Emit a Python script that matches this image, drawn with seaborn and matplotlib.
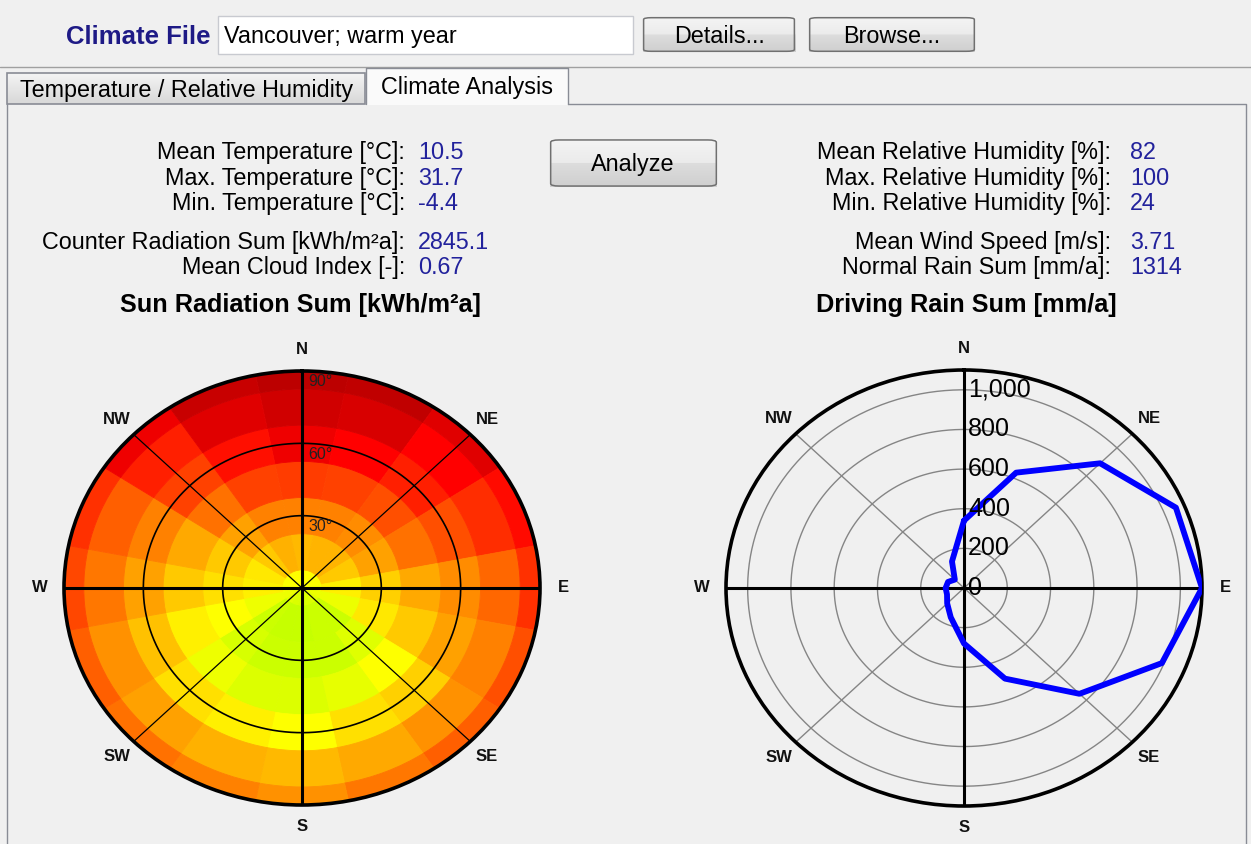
import numpy as np
import matplotlib
matplotlib.use("Agg")
import matplotlib.pyplot as plt
import matplotlib.transforms as mtransforms
from matplotlib.colors import LinearSegmentedColormap, Normalize
from matplotlib.patches import FancyBboxPatch, Rectangle
from matplotlib.lines import Line2D
import seaborn as sns

# ---------------- data ----------------
climate_file = "Vancouver; warm year"
left_labels = ["Mean Temperature [°C]:", "Max. Temperature [°C]:", "Min. Temperature [°C]:",
               "Counter Radiation Sum [kWh/m²a]:", "Mean Cloud Index [-]:"]
left_values = ["10.5", "31.7", "-4.4", "2845.1", "0.67"]
right_labels = ["Mean Relative Humidity [%]:", "Max. Relative Humidity [%]:",
                "Min. Relative Humidity [%]:", "Mean Wind Speed [m/s]:", "Normal Rain Sum [mm/a]:"]
right_values = ["82", "100", "24", "3.71", "1314"]

directions = ["N", "NNE", "NE", "ENE", "E", "ESE", "SE", "SSE",
              "S", "SSW", "SW", "WSW", "W", "WNW", "NW", "NNW"]
azimuths = [0, 22.5, 45, 67.5, 90, 112.5, 135, 157.5,
            180, 202.5, 225, 247.5, 270, 292.5, 315, 337.5]
tilts = [0, 15, 30, 45, 60, 75, 90]

# sun radiation sum [kWh/m²a] per tilt (rows) and azimuth (columns N..NNW)
sun_t0 = [950, 950, 950, 955, 965, 985, 1010, 1030, 1035, 1030, 1010, 985, 965, 955, 950, 950]
sun_t15 = [811, 800, 803, 842, 921, 990, 1063, 1063, 1072, 1072, 1063, 987, 921, 905, 842, 795]
sun_t30 = [700, 700, 724, 763, 858, 905, 1019, 1063, 1063, 1063, 1037, 950, 889, 842, 763, 700]
sun_t45 = [567, 575, 606, 669, 779, 842, 950, 1001, 1026, 1026, 987, 921, 842, 779, 669, 575]
sun_t60 = [426, 450, 512, 606, 724, 763, 858, 889, 950, 921, 889, 826, 763, 700, 575, 481]
sun_t75 = [376, 388, 450, 540, 653, 700, 732, 779, 811, 795, 763, 732, 684, 637, 512, 401]
sun_t90 = [344, 350, 401, 470, 544, 606, 637, 684, 732, 700, 669, 637, 590, 544, 426, 363]
sun_rows = [sun_t0, sun_t15, sun_t30, sun_t45, sun_t60, sun_t75, sun_t90]

# driving rain sum [mm/a] per direction (N..NNW)
rain = [340, 630, 890, 1060, 1100, 990, 755, 495, 280, 160, 110, 85, 85, 80, 60, 145]

compass = ["N", "NE", "E", "SE", "S", "SW", "W", "NW"]
compass_az = [0, 45, 90, 135, 180, 225, 270, 315]
tilt_ticks = [30, 60, 90]
rain_ticks = [0, 200, 400, 600, 800, 1000]
rain_tick_labels = ["0", "200", "400", "600", "800", "1,000"]

# ---------------- figure ----------------
sns.set_theme(style="white")
plt.rcParams['font.family'] = ['Liberation Sans', 'DejaVu Sans']

W, H = 1251, 844
BG = '#F0F0F0'
fig = plt.figure(figsize=(W / 100, H / 100), dpi=100, facecolor=BG)
PT2PX = 100 / 72
FS = 16.8


def rect_px(x0, y0, x1, y1):
    return [x0 / W, 1 - y1 / H, (x1 - x0) / W, (y1 - y0) / H]


def txt(x, y, s, size=FS, ha='left', color='black', weight='normal'):
    base = y + 0.716 * size * PT2PX / 2
    return fig.text(x / W, 1 - base / H, s, ha=ha, va='baseline', fontsize=size,
                    color=color, fontweight=weight)


def line_px(xs, ys, color='#898C95', lw=1.0):
    fig.add_artist(Line2D([x / W for x in xs], [1 - y / H for y in ys],
                          transform=fig.transFigure, color=color, lw=lw))


btn_cmap = LinearSegmentedColormap.from_list(
    'btn', [(0, '#F4F4F4'), (0.5, '#EBEBEB'), (0.5, '#DDDDDD'), (1, '#CFCFCF')])
tab_cmap = LinearSegmentedColormap.from_list('tab', ['#F5F5F5', '#D8D8D8'])


def gradient_box(x0, y0, x1, y1, cmap, edge='#707070', rounded=True):
    ax = fig.add_axes(rect_px(x0, y0, x1, y1))
    ax.imshow(np.linspace(0, 1, 64).reshape(-1, 1), aspect='auto', cmap=cmap,
              extent=[0, 1, 0, 1], origin='upper')
    ax.set_xlim(0, 1)
    ax.set_ylim(0, 1)
    ax.axis('off')
    if rounded:
        ax.add_patch(FancyBboxPatch((0.004, 0.02), 0.992, 0.96,
                                    boxstyle='round,pad=0,rounding_size=0.05',
                                    transform=ax.transAxes, fc='none', ec=edge, lw=1.1,
                                    clip_on=False))
    return ax


# header
txt(210, 35, "Climate File", size=18.5, ha='right', color='#1E1A86', weight='bold')
fig.add_artist(Rectangle((218 / W, 1 - 54 / H), (633 - 218) / W, (54 - 16) / H,
                         transform=fig.transFigure, fc='white', ec='#C8CAD0', lw=1))
txt(224, 35, climate_file, size=FS)
gradient_box(643, 17, 795, 52, btn_cmap)
txt(719, 35, "Details...", size=FS, ha='center')
gradient_box(809, 17, 975, 52, btn_cmap)
txt(892, 35, "Browse...", size=FS, ha='center')
line_px([0, W], [67, 67], color='#A0A0A0')

# tabs and panel
tab1 = gradient_box(7, 73, 365, 104, tab_cmap, rounded=False)
tab1.add_patch(Rectangle((0, 0), 1, 1, transform=tab1.transAxes, fc='none',
                         ec='#898C95', lw=1.2, clip_on=False))
txt(187, 89, "Temperature / Relative Humidity", size=FS, ha='center')
fig.add_artist(Rectangle((366 / W, 1 - 105 / H), (568 - 366) / W, (105 - 68) / H,
                         transform=fig.transFigure, fc='#FAFAFA', ec='none'))
line_px([366, 366, 568, 568], [104, 68, 68, 104])
txt(467, 86, "Climate Analysis", size=FS, ha='center')
line_px([7, 7], [104, H])
line_px([568, 1246, 1246], [104, 104, H])

# statistics
rows_y = [151, 177, 202, 241, 266]
VAL = '#22229C'
for y, lab, val in zip(rows_y, left_labels, left_values):
    txt(405, y, lab, ha='right')
    txt(418, y, val, color=VAL)
for y, lab, val in zip(rows_y, right_labels, right_values):
    txt(1111, y, lab, ha='right')
    txt(1130, y, val, color=VAL)
gradient_box(550, 139, 717, 187, btn_cmap)
txt(633, 163, "Analyze", size=FS, ha='center')

txt(300, 303, "Sun Radiation Sum [kWh/m²a]", size=18.2, ha='center', weight='bold')
txt(966, 303, "Driving Rain Sum [mm/a]", size=18.2, ha='center', weight='bold')

# ---------------- left polar: sun radiation ----------------
sun_cmap = LinearSegmentedColormap.from_list(
    'sun', [(0.0, '#A00000'), (0.1875, '#FF0000'), (0.5, '#FF8000'),
            (0.8125, '#FFFF00'), (1.0, '#BBFF00')])
norm = Normalize(vmin=300, vmax=1100)

axl = fig.add_axes(rect_px(64, 371, 540, 805), projection='polar')
axl.set_aspect('auto')
axl.set_theta_zero_location('N')
axl.set_theta_direction(-1)
axl.set_facecolor('none')
theta_c = np.deg2rad(azimuths)
sector = 2 * np.pi / len(azimuths)
half = (tilts[1] - tilts[0]) / 2
for t, row in zip(tilts, sun_rows):
    lo, hi = max(t - half, 0), min(t + half, tilts[-1])
    cols = sun_cmap(norm(np.array(row)))
    axl.bar(theta_c, hi - lo, width=sector, bottom=lo, color=cols, edgecolor=cols,
            linewidth=0.6, align='center', zorder=1)
axl.set_ylim(0, tilts[-1])
tf = np.linspace(0, 2 * np.pi, 500)
for r in tilt_ticks[:-1]:
    axl.plot(tf, np.full_like(tf, r), color='black', lw=1.2, zorder=3)
for a in compass_az:
    lw = 2.2 if a % 90 == 0 else 0.9
    axl.plot([np.deg2rad(a)] * 2, [0, tilts[-1]], color='black', lw=lw, zorder=4)
axl.set_xticks([])
axl.set_yticks([])
axl.grid(False)
axl.spines['polar'].set_linewidth(2.6)
axl.spines['polar'].set_color('black')
off = mtransforms.offset_copy(axl.transData, fig=fig, x=6, y=-11, units='dots')
for t in tilt_ticks:
    axl.text(0, t, f"{t}°", transform=off, ha='left', va='center', fontsize=11.5,
             color='#222222', zorder=6)
for lab, a in zip(compass, compass_az):
    axl.text(np.deg2rad(a), tilts[-1] * 1.1, lab, ha='center', va='center',
             fontsize=12, fontweight='bold', color='#111111', clip_on=False)

# ---------------- right polar: driving rain ----------------
rmax = max(rain)
axr = fig.add_axes(rect_px(726, 370, 1202, 806), projection='polar')
axr.set_aspect('auto')
axr.set_theta_zero_location('N')
axr.set_theta_direction(-1)
axr.set_facecolor(BG)
for r in rain_ticks[1:]:
    axr.plot(tf, np.full_like(tf, r), color='#858585', lw=1.0, zorder=2)
for a in compass_az:
    if a % 90 == 0:
        axr.plot([np.deg2rad(a)] * 2, [0, rmax], color='black', lw=2.2, zorder=4)
    else:
        axr.plot([np.deg2rad(a)] * 2, [0, rmax], color='#858585', lw=1.0, zorder=2)

theta_closed = np.deg2rad(azimuths + [360])
rain_closed = rain + [rain[0]]
sns.lineplot(x=theta_closed, y=rain_closed, sort=False, estimator=None, ax=axr,
             color='#0000FF', linewidth=4.2, zorder=5)
axr.set_xlabel('')
axr.set_ylabel('')
axr.set_ylim(0, rmax)
axr.set_xticks([])
axr.set_yticks([])
axr.grid(False)
axr.spines['polar'].set_linewidth(2.6)
axr.spines['polar'].set_color('black')
offr = mtransforms.offset_copy(axr.transData, fig=fig, x=4, y=0, units='dots')
for r, lab in zip(rain_ticks, rain_tick_labels):
    axr.text(0, r, lab, transform=offr, ha='left', va='center', fontsize=18,
             color='black', zorder=6)
for lab, a in zip(compass, compass_az):
    axr.text(np.deg2rad(a), rmax * 1.1, lab, ha='center', va='center',
             fontsize=12, fontweight='bold', color='#111111', clip_on=False)

fig.savefig("out.png", dpi=100, facecolor=BG)
